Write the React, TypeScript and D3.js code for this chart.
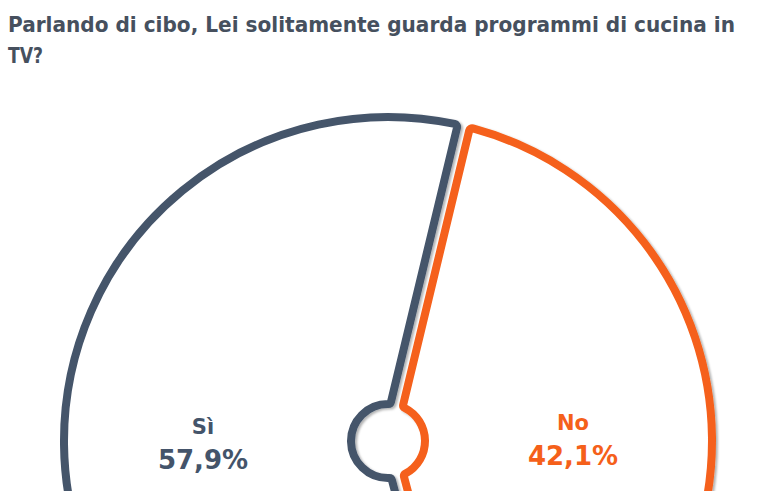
import * as d3 from 'd3'
import { useEffect, useRef } from 'react'

// survey answers
const categories = ['Sì', 'No']
const values = [57.9, 42.1]
const colors = ['#44546a', '#f5601a']
const titleLines = [
    'Parlando di cibo, Lei solitamente guarda programmi di cucina in',
    'TV?',
]

const width = 768
const height = 491

export default function App() {
    const svgRef = useRef<SVGSVGElement>(null)

    useEffect(() => {
        if (!svgRef.current) return
        const svg = d3.select(svgRef.current)
        svg.selectAll('*').remove()

        const cx = 388
        const cy = 441
        const outer = 324
        const inner = 37

        const fmt = d3.formatLocale({
            decimal: ',',
            thousands: '.',
            grouping: [3],
            currency: ['€', ''],
        }).format('.1f')

        const defs = svg.append('defs')
        const shadow = defs.append('filter').attr('id', 'shadow')
            .attr('x', '-10%').attr('y', '-10%')
            .attr('width', '120%').attr('height', '120%')
        shadow.append('feDropShadow')
            .attr('dx', 2).attr('dy', 1.5)
            .attr('stdDeviation', 1.2)
            .attr('flood-color', '#000')
            .attr('flood-opacity', 0.3)

        // title
        const title = svg.append('g')
            .attr('fill', '#46505e')
            .style('font-family', '"DejaVu Sans", sans-serif')
            .style('font-weight', 'bold')
        title.append('text')
            .attr('x', 8).attr('y', 32)
            .attr('font-size', 21)
            .attr('textLength', 727)
            .attr('lengthAdjust', 'spacingAndGlyphs')
            .text(titleLines[0])
        title.append('text')
            .attr('x', 8).attr('y', 63)
            .attr('font-size', 21)
            .attr('textLength', 35)
            .attr('lengthAdjust', 'spacingAndGlyphs')
            .text(titleLines[1])

        const start = (165.1 * Math.PI) / 180
        const pie = d3.pie<number>()
            .sort(null)
            .startAngle(start)
            .endAngle(start + Math.PI * 2)
        const arcs = pie(values)

        const arc = d3.arc<d3.PieArcDatum<number>>()
            .innerRadius(inner)
            .outerRadius(outer)
            .padAngle(0.038)
            .padRadius(330)
            .cornerRadius(3)

        const labelArc = d3.arc<d3.PieArcDatum<number>>()
            .innerRadius(185)
            .outerRadius(185)

        const g = svg.append('g')
            .attr('transform', `translate(${cx},${cy})`)

        g.selectAll('path.slice')
            .data(arcs)
            .join('path')
            .attr('class', 'slice')
            .attr('d', arc)
            .attr('fill', '#fff')
            .attr('stroke', (d, i) => colors[i])
            .attr('stroke-width', 8)
            .attr('stroke-linejoin', 'round')
            .attr('filter', 'url(#shadow)')

        const labels = g.selectAll('g.label')
            .data(arcs)
            .join('g')
            .attr('class', 'label')
            .attr('transform', (d) => `translate(${labelArc.centroid(d)})`)
            .attr('fill', (d, i) => colors[i])
            .attr('text-anchor', 'middle')
            .style('font-family', '"DejaVu Sans", sans-serif')
            .style('font-weight', 'bold')

        labels.append('text')
            .attr('y', -9)
            .attr('font-size', 21)
            .text((d, i) => categories[i])
        labels.append('text')
            .attr('y', 26)
            .attr('font-size', 26)
            .text((d) => `${fmt(d.data)}%`)
    }, [])

    return (
        <svg
            ref={svgRef}
            width={width}
            height={height}
            style={{ position: 'absolute', left: 0, top: 0, background: '#fff' }}
        />
    )
}
